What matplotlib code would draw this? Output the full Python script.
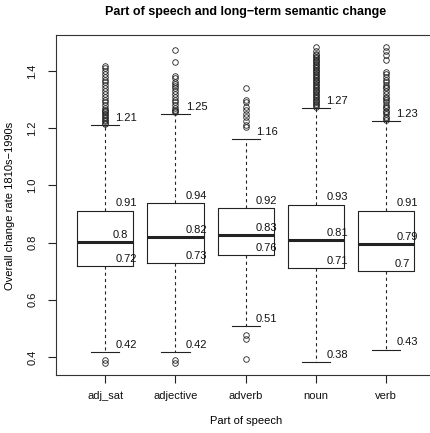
import matplotlib
matplotlib.use("Agg")
import matplotlib.pyplot as plt

plt.rcParams['font.family'] = ['Liberation Sans', 'DejaVu Sans']

categories = ["adj_sat", "adjective", "adverb", "noun", "verb"]
whisker_low = [0.418, 0.418, 0.508, 0.381, 0.426]
q1 = [0.717, 0.728, 0.756, 0.710, 0.702]
median = [0.802, 0.818, 0.826, 0.808, 0.794]
q3 = [0.912, 0.937, 0.922, 0.933, 0.912]
whisker_high = [1.212, 1.249, 1.161, 1.272, 1.226]

outliers_adj_sat = [0.39, 0.378,
                    1.215, 1.22, 1.225, 1.23, 1.235, 1.24, 1.245, 1.25, 1.255, 1.26,
                    1.265, 1.27, 1.28, 1.29, 1.30, 1.31, 1.32, 1.33, 1.34, 1.35,
                    1.36, 1.37, 1.38, 1.39, 1.40, 1.41, 1.418]
outliers_adjective = [0.39, 0.378,
                      1.255, 1.26, 1.265, 1.27, 1.28, 1.29, 1.30, 1.31, 1.32, 1.33,
                      1.34, 1.348, 1.355, 1.363, 1.375, 1.383, 1.432, 1.473]
outliers_adverb = [0.394, 0.464, 0.476,
                   1.203, 1.21, 1.225, 1.24, 1.25, 1.262, 1.275, 1.293, 1.30, 1.342]
outliers_noun = [1.275, 1.28, 1.285, 1.29, 1.295, 1.30, 1.305, 1.31, 1.315, 1.32,
                 1.325, 1.33, 1.335, 1.34, 1.345, 1.35, 1.355, 1.36, 1.365, 1.37,
                 1.375, 1.38, 1.385, 1.39, 1.395, 1.40, 1.405, 1.41, 1.415, 1.42,
                 1.425, 1.43, 1.435, 1.44, 1.445, 1.45, 1.455, 1.46, 1.47, 1.485]
outliers_verb = [1.23, 1.235, 1.24, 1.25, 1.255, 1.26, 1.27, 1.275, 1.28, 1.29,
                 1.30, 1.305, 1.31, 1.32, 1.33, 1.34, 1.345, 1.35, 1.36, 1.37,
                 1.38, 1.39, 1.398, 1.44, 1.455, 1.47, 1.485]
outliers = [outliers_adj_sat, outliers_adjective, outliers_adverb, outliers_noun, outliers_verb]

yticks = [0.4, 0.6, 0.8, 1.0, 1.2, 1.4]
title = "Part of speech and long\u2212term semantic change"
xlabel = "Part of speech"
ylabel = "Overall change rate 1810s\u22121990s"

W, H = 431, 433
fig = plt.figure(figsize=(W / 100, H / 100), dpi=100)
ax = fig.add_axes([56 / W, (H - 375) / H, 379.5 / W, 340 / H])

line_col = "#222222"
stats = []
for i, c in enumerate(categories):
    stats.append(dict(label=c, whislo=whisker_low[i], q1=q1[i], med=median[i],
                      q3=q3[i], whishi=whisker_high[i], fliers=outliers[i]))

positions = list(range(1, len(categories) + 1))
ax.bxp(stats, positions=positions, widths=0.8,
       boxprops=dict(color=line_col, linewidth=0.8),
       medianprops=dict(color=line_col, linewidth=2.2, solid_capstyle='butt'),
       whiskerprops=dict(color=line_col, linewidth=0.8, linestyle=(0, (2.8, 2.8))),
       capprops=dict(color=line_col, linewidth=0.8),
       flierprops=dict(marker='o', markersize=4, markerfacecolor='none',
                       markeredgecolor=line_col, markeredgewidth=0.6, linestyle='none'))

ax.set_xlim(0.3, 5.7)
ax.set_ylim(0.337, 1.526)
ax.set_yticks(yticks)
ax.set_yticklabels([f"{t:.1f}" for t in yticks], rotation=90, va='center')
ax.set_xticks(positions)
ax.set_xticklabels(categories)
ax.tick_params(axis='both', length=5.5, width=0.8, color=line_col, labelsize=8,
               labelcolor='#111111')
ax.tick_params(axis='y', pad=8)
ax.tick_params(axis='x', pad=6)
for s in ax.spines.values():
    s.set_color("#333333")
    s.set_linewidth(0.8)

# value labels
for i, p in enumerate(positions):
    for v in [whisker_low[i], q1[i], median[i], q3[i], whisker_high[i]]:
        lab = f"{round(v, 2):g}"
        dx = -(4 - len(lab)) * 4.0
        ax.annotate(lab, xy=(p + 0.3, v), xytext=(dx, 1.5), textcoords='offset points',
                    ha='center', va='bottom', fontsize=8, color='#111111')

fig.text(246 / W, 1 - 12 / H, title, ha='center', va='center', fontsize=9,
         fontweight='bold')
fig.text(246 / W, 1 - 421.5 / H, xlabel, ha='center', va='center', fontsize=8)
fig.text(10 / W, 1 - 206 / H, ylabel, ha='center', va='center', fontsize=8, rotation=90)

fig.savefig("out.png", dpi=100)
